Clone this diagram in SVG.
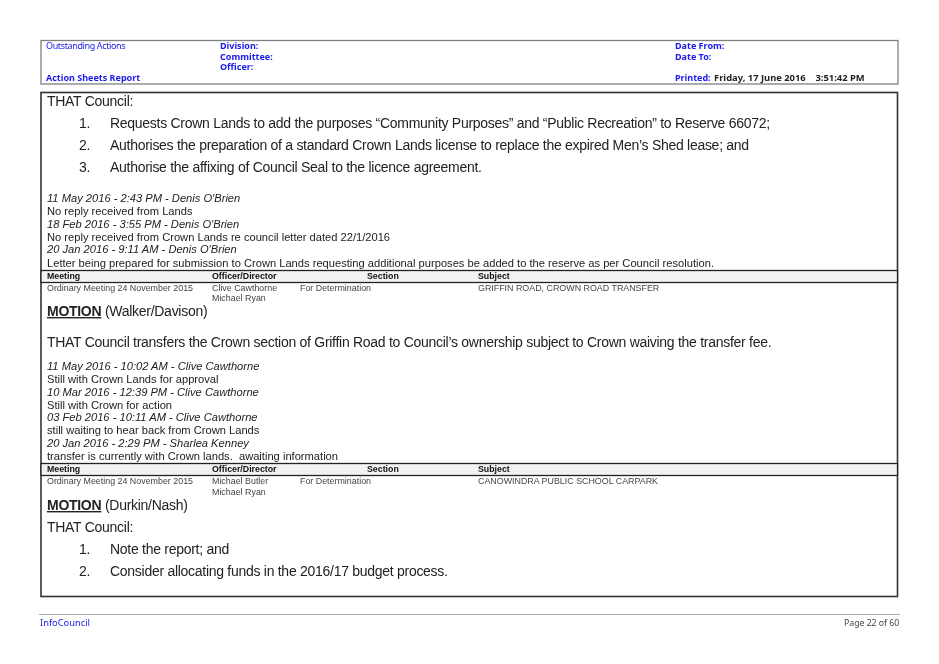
<svg xmlns="http://www.w3.org/2000/svg" width="939" height="664" viewBox="0 0 939 664">
<style>
text{font-family:"Liberation Sans",Arial,sans-serif;fill:#222;white-space:pre}
.h{font-family:"Noto Sans","DejaVu Sans",sans-serif;font-size:9px;fill:#1a1aee}
.r{letter-spacing:-0.37px}
.b{font-weight:700}
.k{fill:#222;font-size:9.4px}
.p{font-size:14px;letter-spacing:-0.28px}
.n{font-size:11.15px}
.i{font-size:11.15px;font-style:italic}
.th{font-size:8.8px;font-weight:700;fill:#111}
.td{font-size:8.9px;fill:#444}
.band{fill:#f2f2f2;stroke:#222;stroke-width:1.3}
.m{font-weight:700;text-decoration:underline}
.soft{filter:url(#soft)}
</style>
<defs><filter id="soft" x="0" y="0" width="100%" height="100%"><feGaussianBlur stdDeviation="0.3"/></filter></defs>
<rect width="939" height="664" fill="#fff"/>
<g class="soft">
<g id="report-header">
<rect x="41" y="40.500" width="857" height="43.500" fill="#fff" stroke="#808080" stroke-width="1.300"/>
<text class="h r" x="46" y="49">Outstanding Actions</text>
<text class="h b" x="46" y="81">Action Sheets Report</text>
<text class="h b" x="220" y="49">Division:</text>
<text class="h b" x="220" y="60">Committee:</text>
<text class="h b" x="220" y="70">Officer:</text>
<text class="h b" x="675" y="49">Date From:</text>
<text class="h b" x="675" y="60">Date To:</text>
<text class="h b" x="675" y="81">Printed:</text>
<text class="h b k" x="714" y="81">Friday, 17 June 2016<tspan x="815.500">3:51:42 PM</tspan></text>
</g>
<g id="action-sheet">
<rect x="41" y="92.500" width="856.500" height="504" fill="#fff" stroke="#333" stroke-width="1.600"/>
<text class="p" x="47" y="106">THAT Council:</text>
<text class="p" x="79" y="128">1.</text>
<text class="p" x="110" y="128">Requests Crown Lands to add the purposes “Community Purposes” and “Public Recreation” to Reserve 66072;</text>
<text class="p" x="79" y="150">2.</text>
<text class="p" x="110" y="150">Authorises the preparation of a standard Crown Lands license to replace the expired Men’s Shed lease; and</text>
<text class="p" x="79" y="172">3.</text>
<text class="p" x="110" y="172">Authorise the affixing of Council Seal to the licence agreement.</text>
<text class="i" x="47" y="202">11 May 2016 - 2:43 PM - Denis O'Brien</text>
<text class="n" x="47" y="215">No reply received from Lands</text>
<text class="i" x="47" y="228">18 Feb 2016 - 3:55 PM - Denis O'Brien</text>
<text class="n" x="47" y="241">No reply received from Crown Lands re council letter dated 22/1/2016</text>
<text class="i" x="47" y="253">20 Jan 2016 - 9:11 AM - Denis O'Brien</text>
<text class="n" x="47" y="267">Letter being prepared for submission to Crown Lands requesting additional purposes be added to the reserve as per Council resolution.</text>
<rect class="band" x="41" y="270.500" width="856.500" height="12"/>
<text class="th" x="47" y="279">Meeting</text>
<text class="th" x="212" y="279">Officer/Director</text>
<text class="th" x="367" y="279">Section</text>
<text class="th" x="478" y="279">Subject</text>
<text class="td" x="47" y="291">Ordinary Meeting 24 November 2015</text>
<text class="td" x="212" y="291">Clive Cawthorne</text>
<text class="td" x="212" y="301">Michael Ryan</text>
<text class="td" x="300" y="291">For Determination</text>
<text class="td" x="478" y="291">GRIFFIN ROAD, CROWN ROAD TRANSFER</text>
<text class="p" x="47" y="316"><tspan class="m">MOTION</tspan> (Walker/Davison)</text>
<text class="p" x="47" y="347">THAT Council transfers the Crown section of Griffin Road to Council’s ownership subject to Crown waiving the transfer fee.</text>
<text class="i" x="47" y="370">11 May 2016 - 10:02 AM - Clive Cawthorne</text>
<text class="n" x="47" y="383">Still with Crown Lands for approval</text>
<text class="i" x="47" y="396">10 Mar 2016 - 12:39 PM - Clive Cawthorne</text>
<text class="n" x="47" y="409">Still with Crown for action</text>
<text class="i" x="47" y="421">03 Feb 2016 - 10:11 AM - Clive Cawthorne</text>
<text class="n" x="47" y="434">still waiting to hear back from Crown Lands</text>
<text class="i" x="47" y="447">20 Jan 2016 - 2:29 PM - Sharlea Kenney</text>
<text class="n" x="47" y="460">transfer is currently with Crown lands.  awaiting information</text>
<rect class="band" x="41" y="463.500" width="856.500" height="12"/>
<text class="th" x="47" y="472">Meeting</text>
<text class="th" x="212" y="472">Officer/Director</text>
<text class="th" x="367" y="472">Section</text>
<text class="th" x="478" y="472">Subject</text>
<text class="td" x="47" y="484">Ordinary Meeting 24 November 2015</text>
<text class="td" x="212" y="484">Michael Butler</text>
<text class="td" x="212" y="495">Michael Ryan</text>
<text class="td" x="300" y="484">For Determination</text>
<text class="td" x="478" y="484">CANOWINDRA PUBLIC SCHOOL CARPARK</text>
<text class="p" x="47" y="510"><tspan class="m">MOTION</tspan> (Durkin/Nash)</text>
<text class="p" x="47" y="532">THAT Council:</text>
<text class="p" x="79" y="554">1.</text>
<text class="p" x="110" y="554">Note the report; and</text>
<text class="p" x="79" y="576">2.</text>
<text class="p" x="110" y="576">Consider allocating funds in the 2016/17 budget process.</text>
</g>
<g id="footer">
<line x1="39" y1="614.500" x2="900" y2="614.500" stroke="#aaa" stroke-width="1"/>
<text class="h" style="font-size:9.3px" x="40" y="626">InfoCouncil</text>
<text class="h" style="font-size:8.7px;fill:#444" x="844" y="626">Page 22 of 60</text>
</g>
</g>
</svg>
